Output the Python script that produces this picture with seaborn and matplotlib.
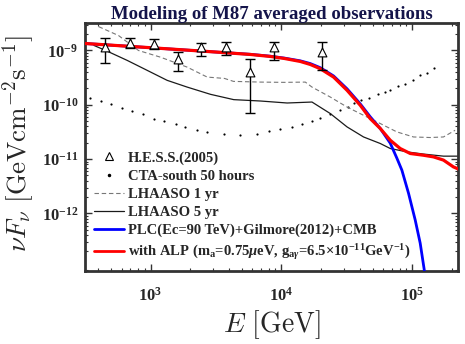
import numpy as np
import matplotlib
matplotlib.use('Agg')
import matplotlib.pyplot as plt
from matplotlib.lines import Line2D
import seaborn as sns

# H.E.S.S. (2005) averaged M87 points
hess_e = [451, 692, 1054, 1607, 2450, 3785, 5796, 8851, 20470]
hess_f = [1.18e-9, 1.40e-9, 1.34e-9, 6.92e-10, 1.14e-9, 1.18e-9, 4.06e-10, 1.14e-9, 9.30e-10]
hess_hi = [1.68e-9, 1.68e-9, 1.61e-9, 9.19e-10, 1.36e-9, 1.46e-9, 6.92e-10, 1.46e-9, 1.42e-9]
hess_lo = [5.77e-10, 1.10e-9, 1.06e-9, 4.12e-10, 8.0e-10, 8.34e-10, 7.08e-11, 6.64e-10, 4.30e-10]

# CTA-south 50 h sensitivity
cta_e = [344, 415, 495, 608, 724, 879, 1059, 1265, 1552, 1849, 2270, 2710, 3631, 4864,
         6531, 7998, 9817, 12080, 14390, 17140, 19860, 23660, 28180, 32060, 36060, 40830,
         46990, 54700, 62230, 67920, 78520, 88510, 101200, 115100, 129400, 147900]
cta_f = [1.355e-10, 1.175e-10, 1.05e-10, 8.89e-11, 7.71e-11, 6.70e-11, 5.58e-11, 4.98e-11,
         4.39e-11, 3.92e-11, 3.40e-11, 3.17e-11, 2.96e-11, 2.75e-11, 2.88e-11, 3.30e-11,
         3.66e-11, 3.92e-11, 4.52e-11, 5.05e-11, 5.73e-11, 6.90e-11, 8.17e-11, 9.12e-11,
         1.08e-10, 1.21e-10, 1.33e-10, 1.56e-10, 1.72e-10, 1.90e-10, 2.21e-10, 2.45e-10,
         2.90e-10, 3.48e-10, 3.83e-10, 4.82e-10]

# LHAASO sensitivities
lh1_e = [401, 570, 809, 1191, 1905, 2710, 3673, 4305, 6918, 10540, 15240, 17140, 23660,
         31770, 45080, 57020, 76380, 102300, 137100, 173400, 212800]
lh1_f = [2.75e-9, 1.88e-9, 1.0e-9, 7.53e-10, 4.94e-10, 3.24e-10, 3.06e-10, 2.70e-10,
         2.62e-10, 2.59e-10, 2.62e-10, 2.12e-10, 1.39e-10, 9.1e-11, 5.97e-11, 4.52e-11,
         3.17e-11, 2.56e-11, 2.50e-11, 2.56e-11, 3.40e-11]
lh5_e = [369, 467, 664, 944, 1340, 1905, 2871, 4325, 6918, 11070, 17140, 23660, 31770,
         42460, 57020, 67920, 91200, 121900, 173400, 224400]
lh5_f = [1.24e-9, 9.7e-10, 6.56e-10, 4.30e-10, 2.82e-10, 2.12e-10, 1.56e-10, 1.245e-10,
         1.175e-10, 1.08e-10, 1.125e-10, 6.9e-11, 3.92e-11, 2.56e-11, 1.94e-11, 1.57e-11,
         1.36e-11, 1.24e-11, 1.135e-11, 1.135e-11]

# models
plc_e = [319, 1000, 3192, 5794, 8241, 10540, 13960, 16630, 19860, 25060, 31770, 40090,
         47750, 57020, 67920, 76380, 83370, 93760, 105400, 115100, 123600, 127900]
plc_f = [1.343e-9, 1.125e-9, 9.35e-10, 8.5e-10, 7.85e-10, 7.25e-10, 6.45e-10, 5.75e-10,
         4.82e-10, 3.40e-10, 1.97e-10, 1.04e-10, 6.03e-11, 3.66e-11, 1.97e-11, 1.04e-11,
         6.28e-12, 2.35e-12, 7.6e-13, 2.84e-13, 9.2e-14, 4.9e-14]
alp_e = [319, 1000, 3192, 5794, 8241, 10540, 13960, 16630, 19860, 25060, 31770, 40090,
         47750, 57020, 67920, 80910, 96610, 121900, 145500, 173400, 206500, 224400]
alp_f = [1.343e-9, 1.125e-9, 9.35e-10, 8.45e-10, 7.76e-10, 7.13e-10, 6.28e-10, 5.53e-10,
         4.61e-10, 3.24e-10, 1.85e-10, 9.8e-11, 5.58e-11, 3.66e-11, 2.23e-11, 1.57e-11,
         1.27e-11, 1.18e-11, 1.10e-11, 9.6e-12, 7.2e-12, 6.6e-12]

labels = ['H.E.S.S.(2005)', 'CTA-south 50 hours', 'LHAASO 1 yr', 'LHAASO 5 yr',
          'PLC(Ec=90 TeV)+Gilmore(2012)+CMB',
          r'with ALP (m$_\mathrm{a}$=0.75$\mu$eV, g$_{\mathrm{a}\gamma}$=6.5$\times$10$^{-11}$GeV$^{-1}$)']

sns.set_theme(style='ticks')
plt.rcParams['font.family'] = ['Liberation Serif', 'DejaVu Serif']
plt.rcParams['font.weight'] = 'bold'
plt.rcParams['mathtext.fontset'] = 'custom'
plt.rcParams['mathtext.rm'] = 'Liberation Serif:bold'
plt.rcParams['mathtext.it'] = 'Liberation Serif:italic:bold'
plt.rcParams['mathtext.bf'] = 'Liberation Serif:bold'

fig = plt.figure(figsize=(4.65, 3.44), dpi=100)
ax = fig.add_axes([0.183, 0.212, 0.802, 0.721])

sns.scatterplot(x=cta_e, y=cta_f, ax=ax, color='black', s=2.5, marker='o', linewidth=0, zorder=2)
sns.lineplot(x=lh1_e, y=lh1_f, ax=ax, color='#777777', lw=0.8, ls=(0, (4, 2.5)),
             sort=False, estimator=None, zorder=2)
sns.lineplot(x=lh5_e, y=lh5_f, ax=ax, color='#1a1a1a', lw=0.9, sort=False, estimator=None, zorder=2)
sns.lineplot(x=plc_e, y=plc_f, ax=ax, color='#0000ff', lw=2.0, sort=False, estimator=None, zorder=3)
sns.lineplot(x=alp_e, y=alp_f, ax=ax, color='#ff0000', lw=2.3, sort=False, estimator=None, zorder=4)

yerr = [np.array(hess_f) - np.array(hess_lo), np.array(hess_hi) - np.array(hess_f)]
ax.errorbar(hess_e, hess_f, yerr=yerr, fmt='none', ecolor='black', elinewidth=1.0,
            capsize=3.6, capthick=1.0, zorder=5)
sns.scatterplot(x=hess_e, y=hess_f, ax=ax, marker='^', s=40, facecolor='white',
                edgecolor='black', linewidth=0.8, zorder=6)

ax.set_xscale('log')
ax.set_yscale('log')
ax.set_xlim(316, 2.24e5)
ax.set_ylim(8.7e-14, 3.2e-9)
ax.set_xticks([1e3, 1e4, 1e5])
ax.set_yticks([1e-12, 1e-11, 1e-10, 1e-9])

for s in ax.spines.values():
    s.set_linewidth(2)
    s.set_color('#333333')
ax.tick_params(which='both', direction='in', top=True, right=True, color='#333333')
ax.tick_params(which='major', length=5, width=1)
ax.tick_params(which='minor', length=2.5, width=0.8)
ax.tick_params(axis='x', which='major', pad=11, labelsize=12)
ax.tick_params(axis='y', which='major', pad=5, labelsize=12)
for t in ax.get_xticklabels() + ax.get_yticklabels():
    t.set_fontweight('bold')

ax.set_title('Modeling of M87 averaged observations', fontsize=13.5, fontweight='bold',
             color='#14144a', pad=3)
ax.set_xlabel(r'$E\ [\mathrm{GeV}]$', fontsize=20, math_fontfamily='cm')
ax.set_ylabel(r'$\nu F_\nu\ [\mathrm{GeVcm}^{-2}\mathrm{s}^{-1}]$', fontsize=19.5,
              math_fontfamily='cm')
ax.xaxis.set_label_coords(0.5, -0.15)
ax.yaxis.set_label_coords(-0.13, 0.514)

handles = [
    Line2D([], [], ls='none', marker='^', mfc='white', mec='black', ms=6, mew=0.8),
    Line2D([], [], ls='none', marker='o', color='black', ms=1.5),
    Line2D([], [], color='#777777', lw=0.8, ls=(0, (4, 2.5))),
    Line2D([], [], color='#1a1a1a', lw=0.9),
    Line2D([], [], color='#0000ff', lw=2.0),
    Line2D([], [], color='#ff0000', lw=2.0),
]
ax.legend(handles, labels, loc='lower left', bbox_to_anchor=(0.0, 0.0), frameon=False,
          prop={'family': 'Liberation Serif', 'weight': 'bold', 'size': 10.5},
          handlelength=2.1, handletextpad=0.25, labelspacing=0.34, borderaxespad=0.2)

fig.savefig('out.png', dpi=100)
